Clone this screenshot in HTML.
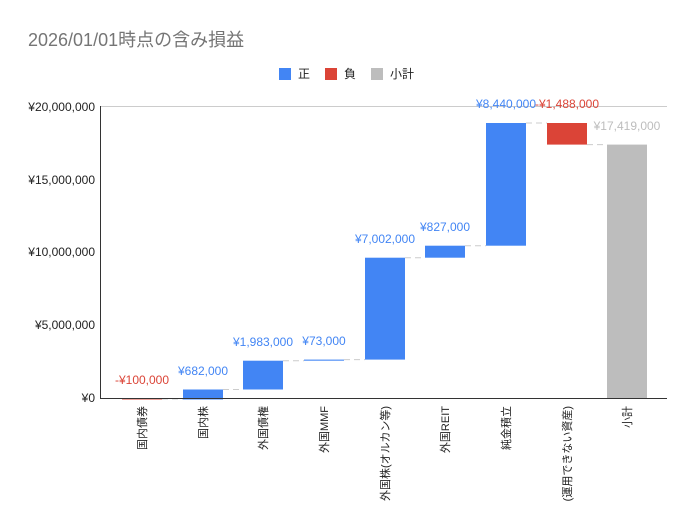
<!DOCTYPE html>
<html><head><meta charset="utf-8"><style>body{margin:0;background:#fff}svg{display:block}</style></head><body>
<svg width="695" height="530" xmlns="http://www.w3.org/2000/svg" font-family="Liberation Sans, Noto Sans CJK JP, sans-serif">
<rect width="695" height="530" fill="#fff"/>
<text x="28" y="46" font-size="18" fill="#757575">2026/01/01時点の含み損益</text>
<rect x="279" y="68" width="12" height="12" fill="#4285f4"/><text x="298" y="78" font-size="12" fill="#222">正</text>
<rect x="325" y="68" width="12" height="12" fill="#db4437"/><text x="344" y="78" font-size="12" fill="#222">負</text>
<rect x="371" y="68" width="12" height="12" fill="#bdbdbd"/><text x="390" y="78" font-size="12" fill="#222">小計</text>
<line x1="100" y1="106.5" x2="667" y2="106.5" stroke="#ccc"/>
<g font-size="12" fill="#222" text-anchor="end">
<text x="95" y="111">¥20,000,000</text><text x="95" y="184">¥15,000,000</text><text x="95" y="256">¥10,000,000</text><text x="95" y="329">¥5,000,000</text><text x="95" y="402">¥0</text></g>
<g stroke="#ccc" stroke-dasharray="6,4">
<line x1="162" y1="399" x2="183" y2="399"/>
<line x1="223" y1="389.5" x2="243" y2="389.5"/>
<line x1="283" y1="360.7" x2="304" y2="360.7"/>
<line x1="344" y1="359.6" x2="365" y2="359.6"/>
<line x1="405" y1="257.7" x2="425" y2="257.7"/>
<line x1="465" y1="245.7" x2="486" y2="245.7"/>
<line x1="526" y1="123" x2="547" y2="123"/>
<line x1="587" y1="144.6" x2="607" y2="144.6"/>
</g>
<rect x="122" y="398" width="40" height="1.5" fill="#db4437"/>
<rect x="183" y="389.5" width="40" height="10" fill="#4285f4"/>
<rect x="243" y="360.7" width="40" height="28.8" fill="#4285f4"/>
<rect x="304" y="359.6" width="40" height="1.1" fill="#4285f4"/>
<rect x="365" y="257.7" width="40" height="101.9" fill="#4285f4"/>
<rect x="425" y="245.7" width="40" height="12" fill="#4285f4"/>
<rect x="486" y="123" width="40" height="122.7" fill="#4285f4"/>
<rect x="547" y="123" width="40" height="21.6" fill="#db4437"/>
<rect x="607" y="144.6" width="40" height="253.4" fill="#bdbdbd"/>
<line x1="100" y1="398.5" x2="667" y2="398.5" stroke="#333"/>
<line x1="100.5" y1="106" x2="100.5" y2="399" stroke="#333"/>
<g font-size="12" text-anchor="middle">
<text x="142" y="384" fill="#db4437">-¥100,000</text>
<text x="203" y="375" fill="#4285f4">¥682,000</text>
<text x="263" y="346" fill="#4285f4">¥1,983,000</text>
<text x="324" y="345" fill="#4285f4">¥73,000</text>
<text x="385" y="243" fill="#4285f4">¥7,002,000</text>
<text x="445" y="231" fill="#4285f4">¥827,000</text>
<text x="506" y="108" fill="#4285f4">¥8,440,000</text>
<text x="567" y="108" fill="#db4437">-¥1,488,000</text>
<text x="627" y="130" fill="#bdbdbd">¥17,419,000</text>
</g>
<g font-size="11" fill="#222" text-anchor="end">
<text transform="translate(146,406) rotate(-90)">国内債券</text>
<text transform="translate(207,406) rotate(-90)">国内株</text>
<text transform="translate(267,406) rotate(-90)">外国債権</text>
<text transform="translate(328,406) rotate(-90)">外国MMF</text>
<text transform="translate(389,406) rotate(-90)">外国株(オルカン等)</text>
<text transform="translate(449,406) rotate(-90)">外国REIT</text>
<text transform="translate(510,406) rotate(-90)">純金積立</text>
<text transform="translate(571,406) rotate(-90)">(運用できない資産)</text>
<text transform="translate(631,406) rotate(-90)">小計</text>
</g>
</svg>
</body></html>
